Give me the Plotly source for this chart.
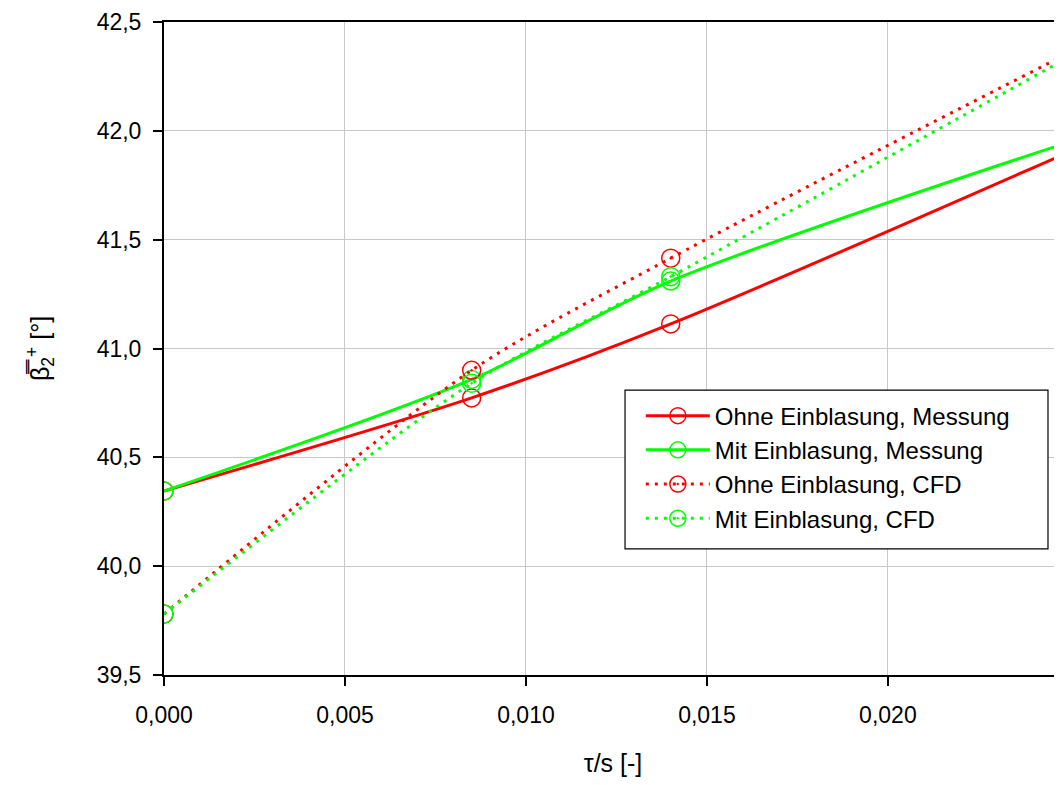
import plotly.graph_objects as go

# tau/s values (last point lies beyond the visible axis range)
x_vals = [0.0, 0.0085, 0.014, 0.030]

ohne_messung = [40.345, 40.773, 41.113, 42.27]
mit_messung = [40.345, 40.858, 41.31, 42.22]
ohne_cfd = [39.78, 40.90, 41.415, 42.78]
mit_cfd = [39.78, 40.84, 41.33, 42.80]

names = [
    "Ohne Einblasung, Messung",
    "Mit Einblasung, Messung",
    "Ohne Einblasung, CFD",
    "Mit Einblasung, CFD",
]

RED = "#FF0000"
GREEN = "#00FF00"

fig = go.Figure()

series = [
    (ohne_messung, names[0], RED, "solid", "circle-open"),
    (mit_messung, names[1], GREEN, "solid", "circle-open"),
    (ohne_cfd, names[2], RED, "3px,6px", "circle-open-dot"),
    (mit_cfd, names[3], GREEN, "3px,6px", "circle-open-dot"),
]

for ys, nm, col, dash, sym in series:
    fig.add_trace(go.Scatter(
        x=x_vals, y=ys, name=nm, mode="lines+markers",
        line=dict(color=col, width=3, dash=dash, shape="spline", smoothing=0.8),
        marker=dict(symbol=sym, size=18, color=col, line=dict(width=1.5, color=col)),
        cliponaxis=True,
    ))

font_family = "Liberation Sans, Arial, sans-serif"

# legend frame (drawn as a paper-space box behind the legend)
fig.add_shape(
    type="rect", xref="paper", yref="paper",
    x0=0.5134, x1=0.9844, y0=0.193, y1=0.4364,
    line=dict(color="black", width=1.2), fillcolor="white", layer="above",
)

fig.update_layout(
    width=1054, height=769,
    margin=dict(l=156, r=0, t=14, b=102),
    paper_bgcolor="white", plot_bgcolor="white",
    separators=",.",
    font=dict(family=font_family, size=23, color="black"),
    showlegend=True,
    legend=dict(
        x=0.531, y=0.431, xanchor="left", yanchor="top",
        bgcolor="rgba(0,0,0,0)", borderwidth=0,
        font=dict(size=24, family=font_family),
        tracegroupgap=0, itemwidth=64,
    ),
    xaxis=dict(
        range=[0, 0.02481], tickvals=[0, 0.005, 0.010, 0.015, 0.020],
        tickformat=".3f", showgrid=True, gridcolor="#C8C8C8", gridwidth=1,
        showline=True, linecolor="black", linewidth=2, mirror=True,
        ticks="outside", ticklen=9, tickcolor="black", tickwidth=1.5,
        ticklabelstandoff=9,
        zeroline=False,
        title=dict(text="τ/s [-]", font=dict(size=25), standoff=33),
        tickfont=dict(size=23),
    ),
    yaxis=dict(
        range=[39.5, 42.5], dtick=0.5, tickformat=".1f",
        showgrid=True, gridcolor="#C8C8C8", gridwidth=1,
        showline=True, linecolor="black", linewidth=2,
        ticks="outside", ticklen=9, tickcolor="black", tickwidth=1.5,
        ticklabelstandoff=7,
        zeroline=False,
        title=dict(text="β\u033f<sub>2</sub><sup>+</sup> [°]", font=dict(size=25), standoff=40),
        tickfont=dict(size=23),
    ),
)

fig.write_html("out.html")
